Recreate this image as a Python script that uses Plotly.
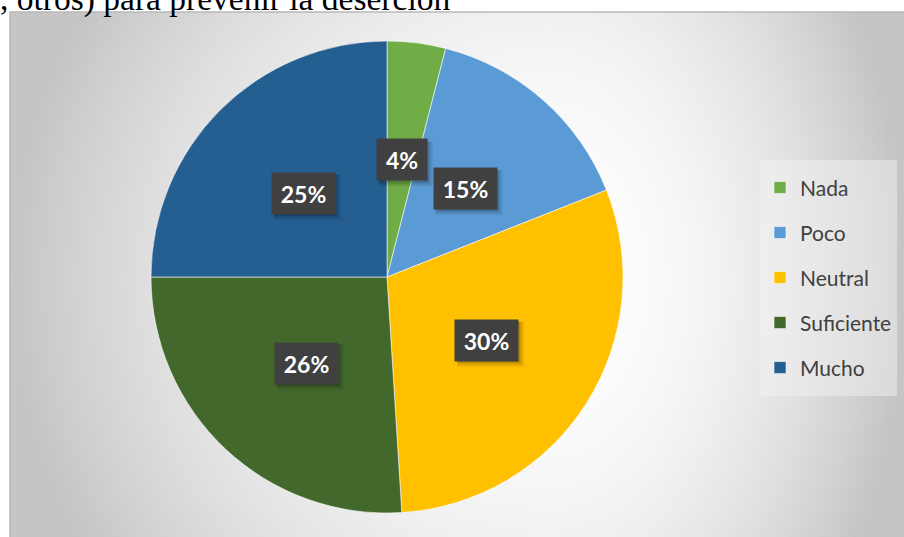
import math, zlib, struct, base64
import plotly.graph_objects as go

# ---- data ----
categories = ["Nada", "Poco", "Neutral", "Suficiente", "Mucho"]
values = [4, 15, 30, 26, 25]
colors = ["#70AD47", "#5B9BD5", "#FFC000", "#43682B", "#255E91"]
header_text = ", otros) para prevenir la deserción"

# ---- layout constants (pixels) ----
W, H = 904, 537
AREA_X0, AREA_Y0 = 10, 12           # chart area top-left
PIE_CX, PIE_CY, PIE_R = 387, 277, 236
LABEL_RF = 0.5


def px_x(px):
    return px / W


def px_y(py):
    return 1 - py / H


# ---- background radial gradient (decoration) as a small PNG ----
def gradient_png(w, h):
    aw, ah = W - AREA_X0, H - AREA_Y0
    cx, cy = 550, 280
    rows = []
    for j in range(h):
        py = AREA_Y0 + (j + 0.5) / h * ah
        row = bytearray([0])
        for i in range(w):
            px = AREA_X0 + (i + 0.5) / w * aw
            dx = px - cx
            rx = 540 if dx < 0 else 354
            ux = dx / rx
            uy = (py - cy) / 265
            t = min(1.0, ux * ux + 0.25 * uy * uy)
            g = int(round(255 - 58 * t))
            row += bytes([g, g, g])
        rows.append(bytes(row))
    raw = b"".join(rows)

    def chunk(tag, data):
        c = struct.pack(">I", len(data)) + tag + data
        return c + struct.pack(">I", zlib.crc32(tag + data) & 0xffffffff)

    png = b"\x89PNG\r\n\x1a\n"
    png += chunk(b"IHDR", struct.pack(">IIBBBBB", w, h, 8, 2, 0, 0, 0))
    png += chunk(b"IDAT", zlib.compress(raw, 9))
    png += chunk(b"IEND", b"")
    return "data:image/png;base64," + base64.b64encode(png).decode()


# legend labels: padded with blank lines to reproduce the wide item spacing
legend_labels = [
    "&nbsp;<br>&nbsp;<br><span style='font-size:21px'>%s</span><br>&nbsp;" % c
    for c in categories
]

fig = go.Figure()
fig.add_trace(go.Pie(
    labels=legend_labels,
    values=values,
    sort=False,
    direction="clockwise",
    rotation=0,
    textinfo="none",
    hoverinfo="percent",
    marker=dict(colors=colors, line=dict(color="rgba(255,255,255,0.7)", width=0.8)),
    domain=dict(x=[px_x(PIE_CX - PIE_R), px_x(PIE_CX + PIE_R)],
                y=[px_y(PIE_CY + PIE_R), px_y(PIE_CY - PIE_R)]),
))

# percentage labels in dark boxes, placed at slice mid-angles
annotations = []
shapes = []
total = sum(values)
cum = 0
for v in values:
    mid = (cum + v / 2) / total * 2 * math.pi
    cum += v
    lx = PIE_CX + LABEL_RF * PIE_R * math.sin(mid)
    ly = PIE_CY - LABEL_RF * PIE_R * math.cos(mid)
    txt = "%d%%" % round(v / total * 100)
    bw = 13 * len(txt) + 8
    full_w, full_h = bw + 16, 25 + 16
    # soft drop shadow (decoration)
    for k, a in ((6, 0.07), (4, 0.10), (2, 0.14)):
        shapes.append(dict(
            type="rect", xref="paper", yref="paper",
            xsizemode="pixel", ysizemode="pixel",
            xanchor=px_x(lx), yanchor=px_y(ly),
            x0=-full_w / 2 + 2, x1=full_w / 2 + k,
            y0=-full_h / 2 - k, y1=full_h / 2 - 2,
            fillcolor="rgba(0,0,0,%.2f)" % a, line=dict(width=0), layer="above",
        ))
    annotations.append(dict(
        x=px_x(lx), y=px_y(ly), xref="paper", yref="paper", showarrow=False,
        xanchor="center", yanchor="middle",
        text="<b>%s</b>" % txt, font=dict(family="Lato", size=23, color="white"),
        bgcolor="#404040", borderpad=8, width=bw, height=25,
    ))

# cut-off line of document text above the chart
annotations.append(dict(
    x=px_x(-2), y=px_y(20), xref="paper", yref="paper", showarrow=False,
    xanchor="left", yanchor="bottom", text=header_text,
    font=dict(family="Liberation Serif", size=33.5, color="black"),
))

shapes.append(dict(
    type="rect", xref="paper", yref="paper",
    x0=px_x(AREA_X0), x1=px_x(W + 2), y0=px_y(H + 2), y1=px_y(AREA_Y0),
    line=dict(color="#b8b8b8", width=1.5), fillcolor="rgba(0,0,0,0)", layer="below",
))

fig.update_layout(
    width=W, height=H,
    margin=dict(l=0, r=0, t=0, b=0),
    paper_bgcolor="white",
    plot_bgcolor="white",
    showlegend=True,
    legend=dict(
        x=px_x(760), y=px_y(160), xanchor="left", yanchor="top",
        font=dict(family="Lato", size=8.08, color="#404040"),
        bgcolor="rgba(245,245,245,0.45)",
        itemclick=False, itemdoubleclick=False,
    ),
    images=[dict(
        source=gradient_png(180, 106), xref="paper", yref="paper",
        x=px_x(AREA_X0), y=px_y(AREA_Y0), sizex=(W - AREA_X0) / W, sizey=(H - AREA_Y0) / H,
        xanchor="left", yanchor="top", sizing="stretch", layer="below",
    )],
    shapes=shapes,
    annotations=annotations,
)

fig.write_html("out.html", config={"displayModeBar": False},
               post_script="document.body.style.margin='0';")
